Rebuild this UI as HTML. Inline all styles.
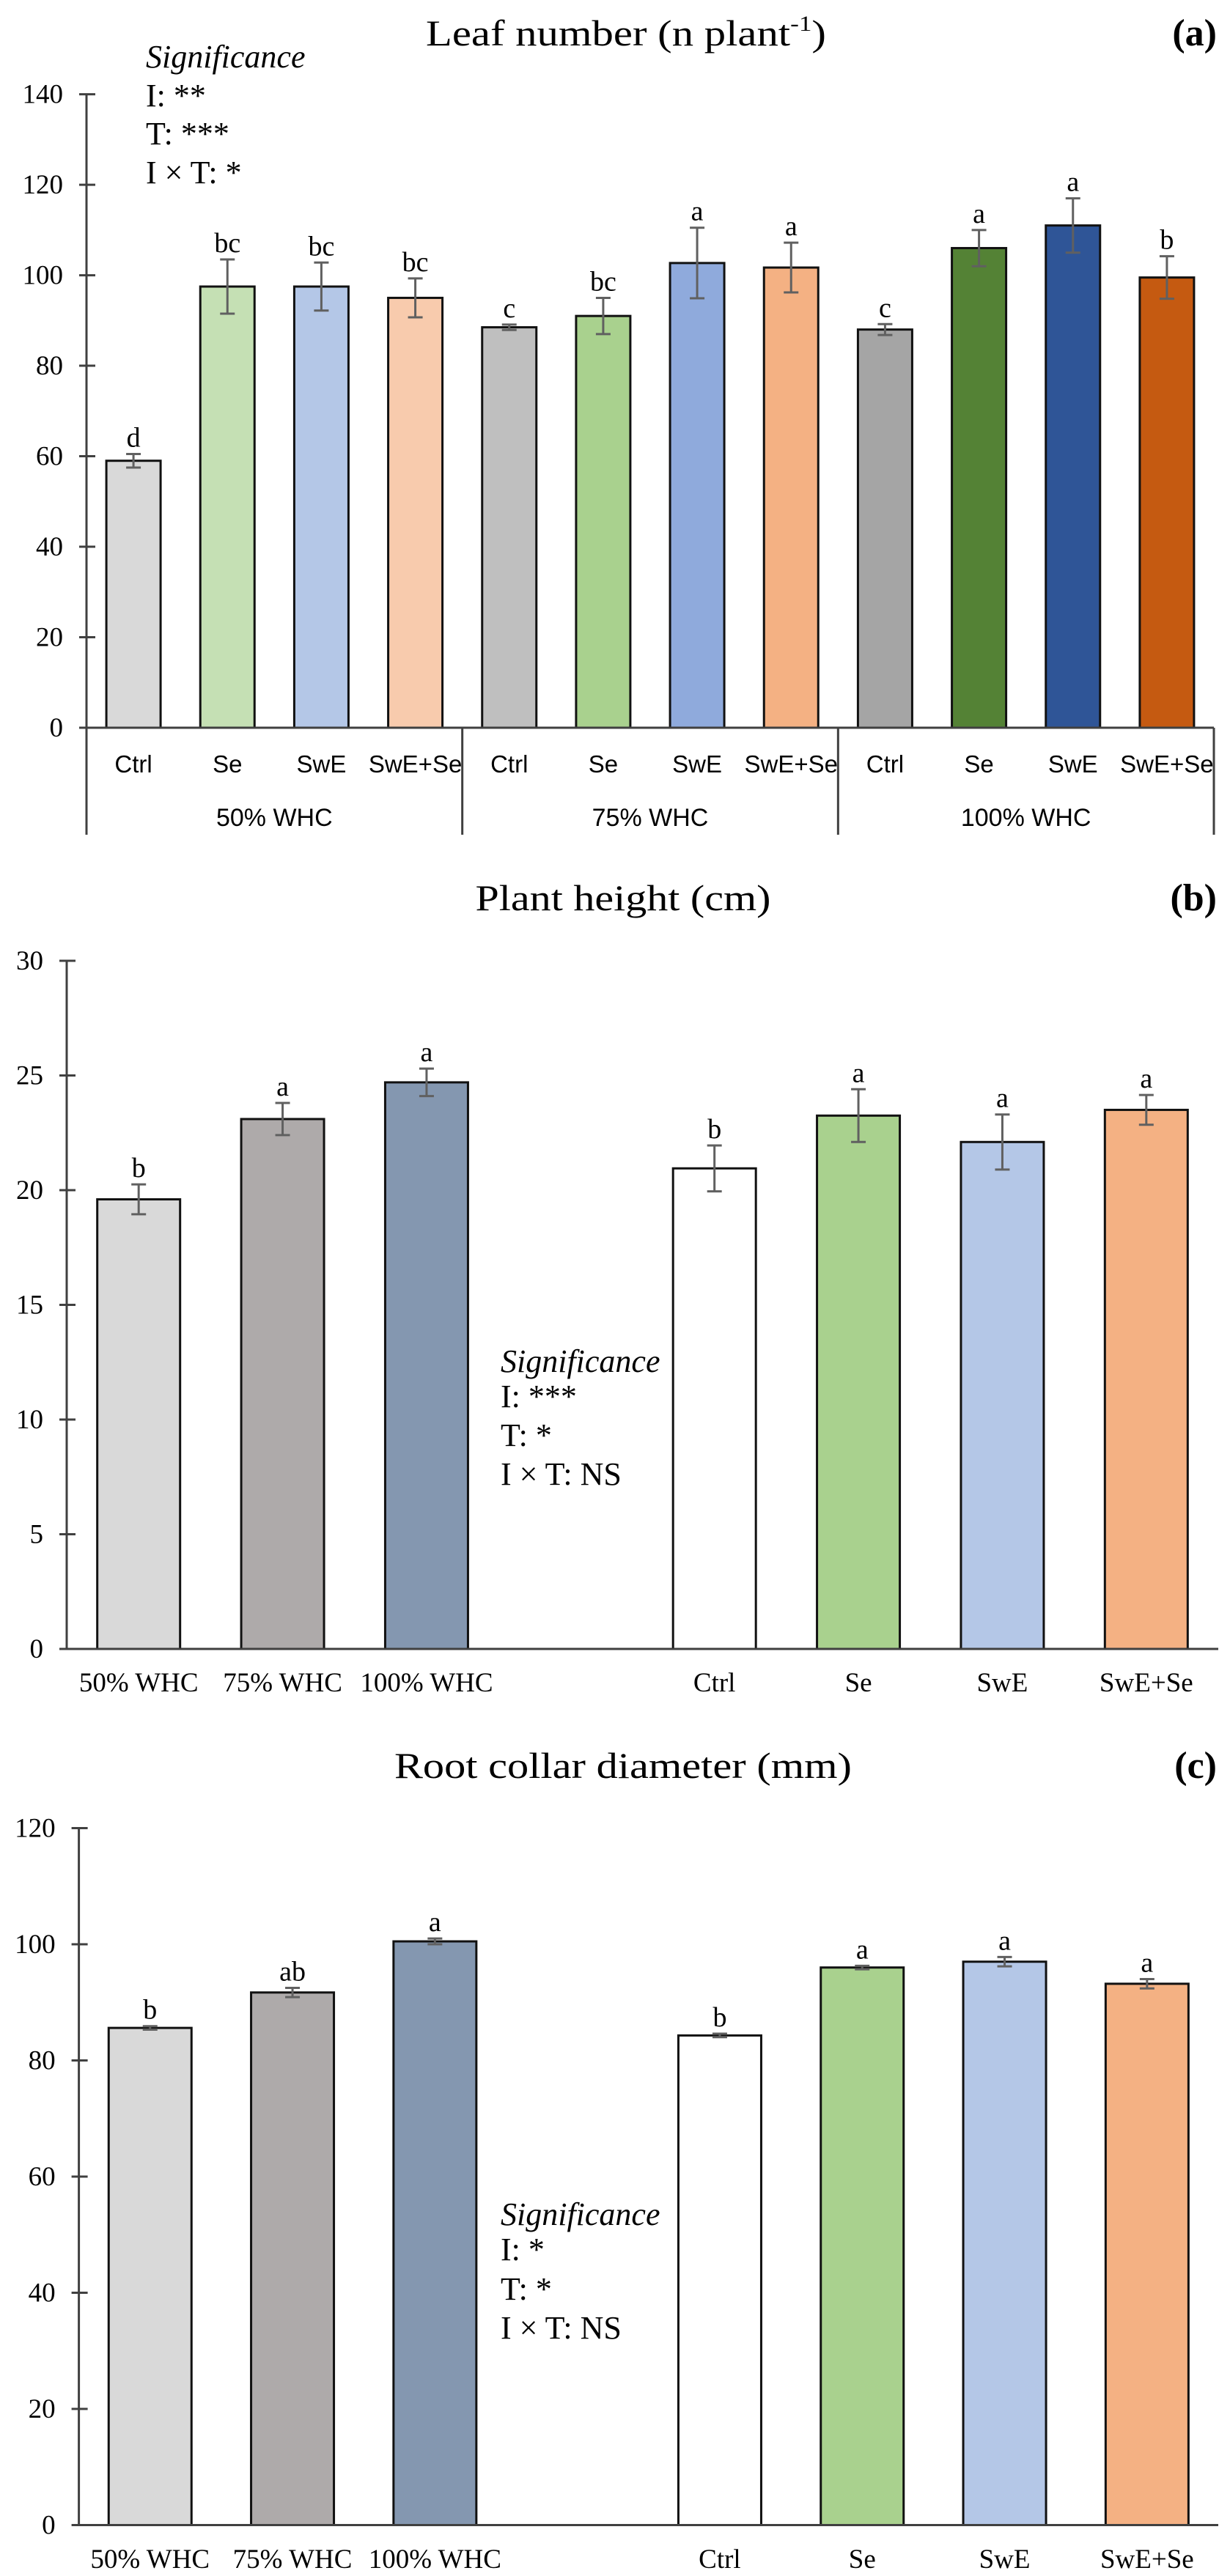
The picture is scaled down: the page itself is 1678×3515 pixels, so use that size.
<!DOCTYPE html>
<html><head><meta charset="utf-8"><style>
html,body{margin:0;padding:0;background:#fff;}
svg{display:block;}
text{font-family:"Liberation Serif",serif;fill:#000;}
.sans{font-family:"Liberation Sans",sans-serif;}
</style></head><body>
<svg id="fig" xmlns="http://www.w3.org/2000/svg" width="1678" height="3515" viewBox="0 0 1678 3515"></svg>
<script>
// Panel (a) data
const aCats = ["Ctrl","Se","SwE","SwE+Se","Ctrl","Se","SwE","SwE+Se","Ctrl","Se","SwE","SwE+Se"];
const aGroups = ["50% WHC","75% WHC","100% WHC"];
const aVals = [59,97.5,97.5,95,88.5,91,102.7,101.7,88,106,111,99.5];
const aErr = [1.5,6,5.3,4.3,0.6,4,7.8,5.5,1.2,4,6,4.7];
const aLetters = ["d","bc","bc","bc","c","bc","a","a","c","a","a","b"];
const aTicks = [0,20,40,60,80,100,120,140];
// Panel (b) data
const bCats = ["50% WHC","75% WHC","100% WHC","","Ctrl","Se","SwE","SwE+Se"];
const bVals = [19.6,23.1,24.7,null,20.95,23.25,22.1,23.5];
const bErr = [0.65,0.7,0.6,null,1.0,1.15,1.2,0.65];
const bLetters = ["b","a","a","","b","a","a","a"];
const bTicks = [0,5,10,15,20,25,30];
// Panel (c) data
const cCats = ["50% WHC","75% WHC","100% WHC","","Ctrl","Se","SwE","SwE+Se"];
const cVals = [85.6,91.7,100.5,null,84.3,96,97,93.2];
const cErr = [0.3,0.8,0.5,null,0.3,0.3,0.8,0.8];
const cLetters = ["b","ab","a","","b","a","a","a"];
const cTicks = [0,20,40,60,80,100,120];

const NS="http://www.w3.org/2000/svg";
const svg=document.getElementById('fig');
function mk(tag,attrs,parent,txt){
  const e=document.createElementNS(NS,tag);
  for(const k in attrs) e.setAttribute(k,attrs[k]);
  if(txt!==undefined) e.textContent=txt;
  (parent||svg).appendChild(e); return e;
}

function panel(o){
  const g=mk('g',{});
  
  
  const y=v=>o.y0-(v/o.max)*(o.y0-o.yTop);
  const slot=(o.xR-o.x0)/o.cats.length;
  const xc=i=>o.x0+slot*(i+0.5);
  // title
  const t=mk('text',{x:o.titleX,y:o.titleY,'font-size':50,'text-anchor':'middle',textLength:o.titleW,lengthAdjust:'spacingAndGlyphs'},g,o.title);
  
  
  if(o.sup){ const s=mk('tspan',{'font-size':30,dy:-20},t,o.sup); mk('tspan',{dy:20},t,')'); }
  const pl=mk('text',{x:1660,y:o.titleY,'font-size':52,'font-weight':'bold','text-anchor':'end'},g,o.label);
  
  
  // y axis
  const ax=mk('line',{x1:o.x0,y1:y(o.max),x2:o.x0,y2:o.y0,stroke:'#404040','stroke-width':3},g);
  
  
  o.ticks.forEach(v=>{
    mk('line',{x1:o.x0-10,y1:y(v),x2:o.x0+12,y2:y(v),stroke:'#404040','stroke-width':3},g);
    const tl=mk('text',{x:o.x0-32,y:y(v)+12,'font-size':37,'text-anchor':'end',fill:'#222'},g,String(v));
    
    
  });
  // bars
  o.vals.forEach((v,i)=>{
    if(v===null) return;
    const bw=o.bw, cx=xc(i);
    const r=mk('rect',{x:cx-bw/2,y:y(v),width:bw,height:o.y0-y(v),fill:o.colors[i],stroke:'#111','stroke-width':3},g);
    
    
    const e=o.err[i];
    const eg=mk('g',{stroke:'#606060','stroke-width':3},g);
    
    
    mk('line',{x1:cx,y1:y(v+e),x2:cx,y2:y(v-e)},eg);
    mk('line',{x1:cx-10,y1:y(v+e),x2:cx+10,y2:y(v+e)},eg);
    mk('line',{x1:cx-10,y1:y(v-e),x2:cx+10,y2:y(v-e)},eg);
    const l=mk('text',{x:cx,y:y(v+e)-10,'font-size':38,'text-anchor':'middle'},g,o.letters[i]);
    
    
  });
  // x axis
  const xa=mk('line',{x1:o.x0-8,y1:o.y0,x2:o.xR,y2:o.y0,stroke:'#404040','stroke-width':3},g);
  
  
  o.cats.forEach((c,i)=>{
    if(!c) return;
    const tl=mk('text',{x:xc(i),y:o.catY,'font-size':o.catSize,'text-anchor':'middle',class:o.catClass||''},g,c);
    
    
  });
  if(o.groups){
    for(let k=0;k<=o.groups.length;k++){
      const gx=o.x0+slot*4*k;
      mk('line',{x1:gx,y1:o.y0,x2:gx,y2:o.y0+146,stroke:'#404040','stroke-width':3},g);
    }
    o.groups.forEach((gn,k)=>{
      const tl=mk('text',{x:o.x0+slot*4*(k+0.5),y:o.y0+134,'font-size':34,'text-anchor':'middle',class:'sans'},g,gn);
      
      
    });
  }
  // significance
  const sg=mk('g',{},g);
  
  
  o.sig.forEach((s,i)=>{
    mk('text',{x:o.sigX,y:o.sigY[i],'font-size':44,'font-style':i===0?'italic':'normal'},sg,s);
  });
}

panel({name:'leaf-number-chart',title:'Leaf number (n plant',sup:'-1',titleX:854,titleY:62,titleW:546,label:'(a)',
  x0:118,xR:1656,y0:993,yTop:128.6,max:140,ticks:aTicks,cats:aCats,vals:aVals,err:aErr,letters:aLetters,
  colors:['#d9d9d9','#c5e0b4','#b4c7e7','#f8cbad','#bfbfbf','#a9d18e','#8faadc','#f4b183','#a5a5a5','#548235','#2f5597','#c55a11'],
  bw:74,catY:1054,catSize:33,catClass:'sans',groups:aGroups,
  sig:['Significance','I: **','T: ***','I × T: *'],sigX:199,sigY:[92,145,197,250]});

panel({name:'plant-height-chart',title:'Plant height (cm)',titleX:850,titleY:1242,titleW:403,label:'(b)',
  x0:91,xR:1662,y0:2250,yTop:1311,max:30,ticks:bTicks,cats:bCats,vals:bVals,err:bErr,letters:bLetters,
  colors:['#d9d9d9','#aeaaaa','#8497b0','#fff','#ffffff','#a9d18e','#b4c7e7','#f4b183'],
  bw:113,catY:2308,catSize:37,
  sig:['Significance','I: ***','T: *','I × T: NS'],sigX:683,sigY:[1872,1920,1973,2026]});

panel({name:'root-collar-diameter-chart',title:'Root collar diameter (mm)',titleX:850,titleY:2426,titleW:624,label:'(c)',
  x0:107.6,xR:1662,y0:3445.5,yTop:2494.5,max:120,ticks:cTicks,cats:cCats,vals:cVals,err:cErr,letters:cLetters,
  colors:['#d9d9d9','#aeaaaa','#8497b0','#fff','#ffffff','#a9d18e','#b4c7e7','#f4b183'],
  bw:113,catY:3504,catSize:37,
  sig:['Significance','I: *','T: *','I × T: NS'],sigX:683,sigY:[3036,3084,3138,3191]});
</script>
</body></html>
